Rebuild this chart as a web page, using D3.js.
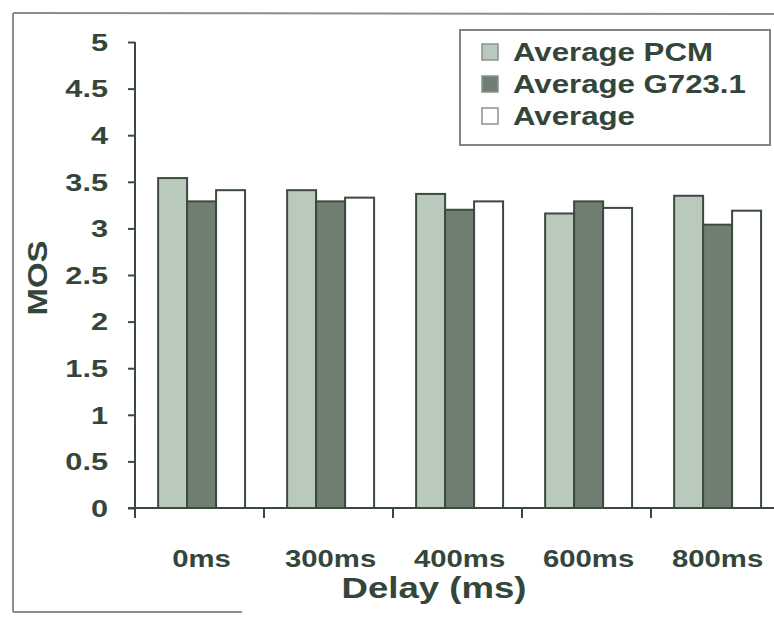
<!DOCTYPE html>
<html>
<head>
<meta charset="utf-8">
<script src="https://cdn.jsdelivr.net/npm/d3@7"></script>
<style>
  body { margin: 0; background: #fff; }
  svg text { font-family: "Liberation Sans", Arial, sans-serif; font-weight: bold; fill: #34463a; }
</style>
</head>
<body>
<svg id="chart"></svg>
<script>
// chart values
var categories = ["0ms", "300ms", "400ms", "600ms", "800ms"];
var seriesNames = ["Average PCM", "Average G723.1", "Average"];
var pcmValues = [3.54, 3.41, 3.37, 3.16, 3.35];
var g723Values = [3.29, 3.29, 3.20, 3.29, 3.04];
var avgValues = [3.41, 3.33, 3.29, 3.22, 3.19];
var yTicks = [0, 0.5, 1, 1.5, 2, 2.5, 3, 3.5, 4, 4.5, 5];
var seriesColors = ["#b9c9bc", "#6f7e71", "#ffffff"];

var W = 774, H = 622,
    stretch = 1.22,   // the scanned text is wider than plain Arial
    ink = "#3b4a3f";

var svg = d3.select("#chart").attr("width", W).attr("height", H);

// frame of the scanned figure
var frame = svg.append("g").attr("stroke", "#86918a").attr("stroke-width", 2).attr("fill", "none");
frame.append("line").attr("x1", 13).attr("y1", 13).attr("x2", 13).attr("y2", 612);
frame.append("line").attr("x1", 13).attr("y1", 13).attr("x2", W).attr("y2", 14);
frame.append("line").attr("x1", 13).attr("y1", 612).attr("x2", 242).attr("y2", 612);

var y = d3.scaleLinear().domain([0, 5]).range([508, 42]);

var xTick = d3.scaleBand().domain(categories).range([135, 780]);
var x0 = d3.scaleBand().domain(categories).range([135, 780])
    .paddingInner(0.326).paddingOuter(0.163).align(0.55);
var x1 = d3.scaleBand().domain(d3.range(seriesNames.length)).range([0, x0.bandwidth()]);

var table = categories.map(function(c, i) {
  return { cat: c, values: [pcmValues[i], g723Values[i], avgValues[i]] };
});

/*
 *    B A R S
 */
var groups = svg.append("g").selectAll(".group")
  .data(table)
  .enter().append("g")
    .attr("class", "group")
    .attr("transform", function(d) { return "translate(" + x0(d.cat) + ",0)"; });

groups.selectAll("rect")
  .data(function(d) { return d.values; })
  .enter().append("rect")
    .attr("x", function(d, i) { return x1(i); })
    .attr("y", function(d) { return y(d); })
    .attr("width", x1.bandwidth())
    .attr("height", function(d) { return y(0) - y(d); })
    .style("fill", function(d, i) { return seriesColors[i]; })
    .style("stroke", ink)
    .style("stroke-width", 2);

/*
 *    A X E S
 */
var yAxis = svg.append("g")
    .attr("transform", "translate(135,0)")
    .call(d3.axisLeft(y).tickValues(yTicks).tickSize(7).tickFormat(function(d) { return String(d); }));
yAxis.select(".domain").attr("stroke", ink).attr("stroke-width", 2).attr("d", "M0," + y(5) + "V" + y(0));
yAxis.selectAll(".tick line").attr("stroke", ink).attr("stroke-width", 2);
yAxis.selectAll(".tick text")
    .attr("x", 0).attr("dy", null)
    .attr("dominant-baseline", "central")
    .attr("transform", "translate(-27,0) scale(1.28,1)")
    .style("font-size", "24px")
    .attr("fill", "#34463a");

var xAxis = svg.append("g").attr("transform", "translate(0," + y(0) + ")");
xAxis.append("line")
    .attr("x1", 128).attr("x2", 780)
    .attr("stroke", ink).attr("stroke-width", 2);
xAxis.selectAll(".xtick")
  .data(categories.concat(["end"]))
  .enter().append("line")
    .attr("x1", function(d, i) { return xTick.range()[0] + i * xTick.step(); })
    .attr("x2", function(d, i) { return xTick.range()[0] + i * xTick.step(); })
    .attr("y1", 0).attr("y2", 10)
    .attr("stroke", ink).attr("stroke-width", 2);

svg.append("g").selectAll(".xlabel")
  .data(categories)
  .enter().append("text")
    .attr("text-anchor", "middle")
    .attr("transform", function(d) {
      return "translate(" + (x0(d) + x0.bandwidth() / 2) + ",567) scale(" + stretch + ",1)";
    })
    .style("font-size", "24px")
    .text(function(d) { return d; });

// axis titles
svg.append("text")
    .attr("text-anchor", "middle")
    .attr("transform", "translate(434,598) scale(" + stretch + ",1)")
    .style("font-size", "30px")
    .text("Delay (ms)");

svg.append("text")
    .attr("text-anchor", "middle")
    .attr("transform", "translate(47,278) rotate(-90) scale(" + stretch + ",1)")
    .style("font-size", "27px")
    .text("MOS");

/*
 *    L E G E N D
 */
var legend = svg.append("g");
legend.append("rect")
    .attr("x", 460).attr("y", 30).attr("width", 310).attr("height", 115)
    .style("fill", "#fff").style("stroke", "#7d877f").style("stroke-width", 2);

var rows = legend.selectAll(".row")
  .data(seriesNames)
  .enter().append("g")
    .attr("transform", function(d, i) { return "translate(482," + (52 + i * 32) + ")"; });

rows.append("rect")
    .attr("x", 0).attr("y", -8).attr("width", 16).attr("height", 16)
    .style("fill", function(d, i) { return seriesColors[i]; })
    .style("stroke", "#8a948c")
    .style("stroke-width", 1.5);

rows.append("text")
    .attr("transform", "translate(31,9) scale(1.2,1)")
    .style("font-size", "26px")
    .text(function(d) { return d; });
</script>
</body>
</html>
